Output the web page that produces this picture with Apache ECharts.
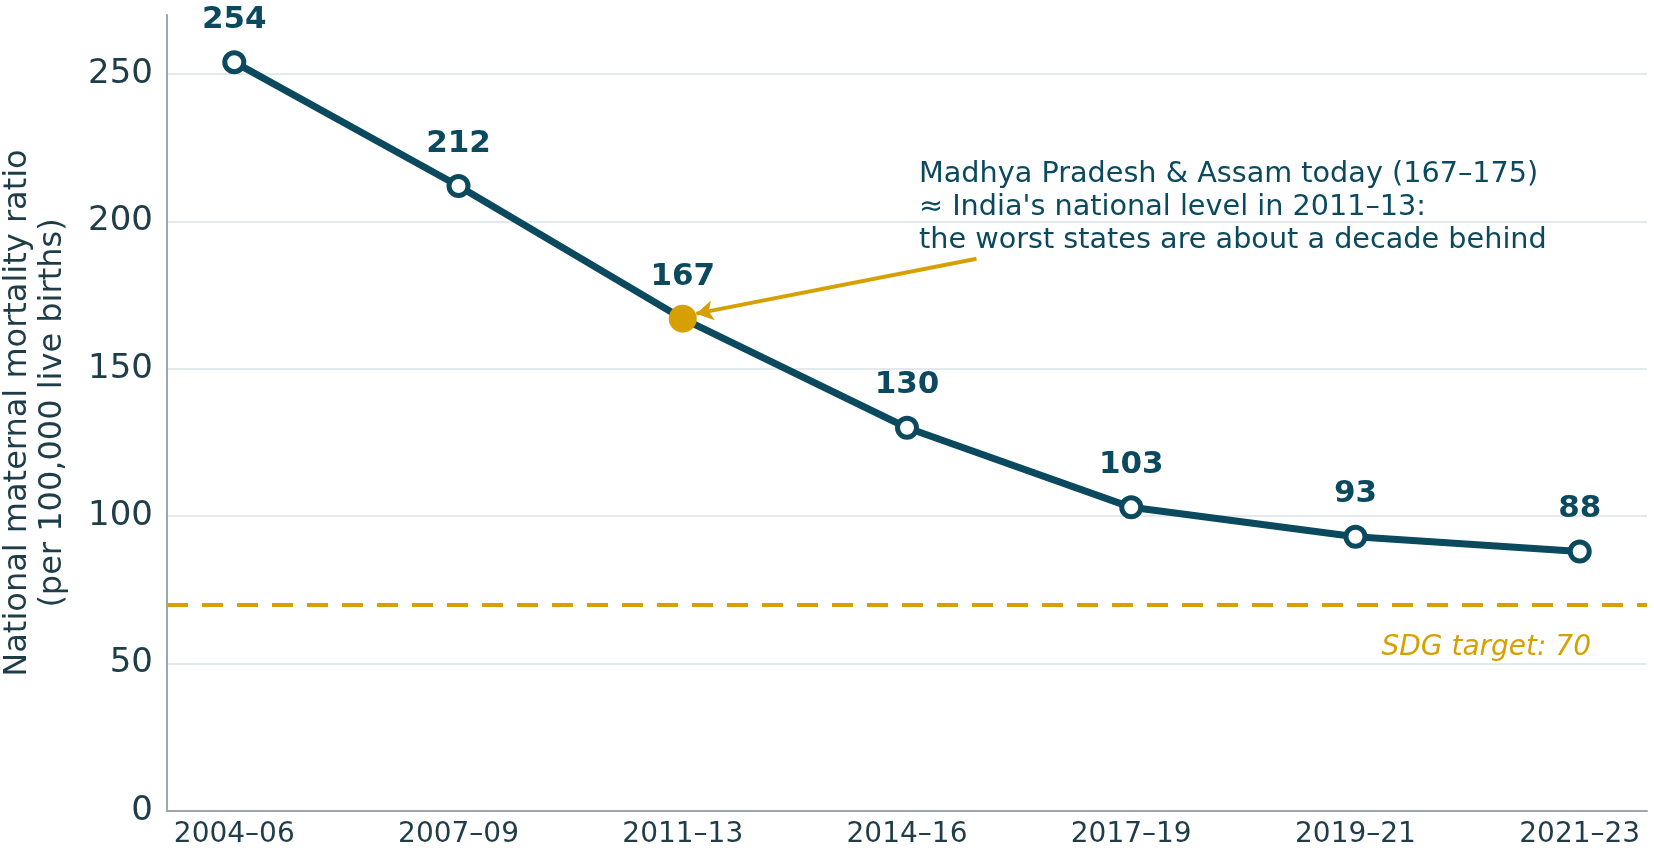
<!DOCTYPE html>
<html>
<head>
<meta charset="utf-8">
<script src="https://cdn.jsdelivr.net/npm/echarts@6/dist/echarts.min.js"></script>
<style>
  html, body { margin: 0; padding: 0; background: #fff; }
  #chart { width: 1654px; height: 850px; }
</style>
</head>
<body>
<div id="chart"></div>
<script>
// data
var periods = ['2004–06', '2007–09', '2011–13', '2014–16', '2017–19', '2019–21', '2021–23'];
var mmr = [254, 212, 167, 130, 103, 93, 88];
var sdgTarget = 70;
var highlightIndex = 2;
var yTicks = [0, 50, 100, 150, 200, 250];
// annotation arrow, in data units (x = period index, y = ratio)
var arrowFrom = [3.31, 187.3];
var arrowTo = [2.06, 168.7];
var noteLines = [
    'Madhya Pradesh & Assam today (167–175)',
    '≈ India\'s national level in 2011–13:',
    'the worst states are about a decade behind'
];

var teal = '#0b4a5e';
var gold = '#d6a100';
var axisGrey = '#9aa8ae';
var tickText = '#1f3d48';
var font = 'DejaVu Sans';

var chart = echarts.init(document.getElementById('chart'));

var points = mmr.map(function (v, i) {
    if (i === highlightIndex) {
        return {
            value: [i, v],
            symbolSize: 28,
            itemStyle: { color: gold, borderWidth: 0 },
            label: { distance: 12 }
        };
    }
    return { value: [i, v] };
});

var option = {
    animation: false,
    textStyle: { fontFamily: font },
    grid: { left: 167, right: 7, top: 15, bottom: 39, outerBoundsMode: 'none' },
    xAxis: {
        type: 'value',
        min: -0.3,
        max: 6.3,
        axisLine: { show: true, lineStyle: { color: axisGrey, width: 2 } },
        axisTick: { show: false },
        splitLine: { show: false },
        axisLabel: {
            customValues: periods.map(function (p, i) { return i; }),
            formatter: function (v) { return periods[v]; },
            fontSize: 28,
            color: tickText,
            margin: 10
        }
    },
    yAxis: {
        type: 'value',
        min: 0,
        max: 270,
        interval: 50,
        name: 'National maternal mortality ratio\n(per 100,000 live births)',
        nameLocation: 'middle',
        nameGap: 97,
        nameTextStyle: { fontSize: 32, lineHeight: 35, color: tickText },
        axisLine: { show: true, onZero: false, lineStyle: { color: axisGrey, width: 2 } },
        axisTick: { show: false },
        axisLabel: {
            customValues: yTicks,
            fontSize: 34,
            color: tickText,
            margin: 14
        },
        splitLine: {
            show: true,
            showMinLine: false,
            showMaxLine: false,
            lineStyle: { color: '#e3eaed', width: 2 }
        }
    },
    graphic: [{
        type: 'text',
        left: 919,
        top: 158,
        style: {
            text: noteLines.join('\n'),
            font: '28.7px "DejaVu Sans"',
            lineHeight: 33,
            fill: teal
        }
    }],
    series: [{
        type: 'line',
        data: points,
        lineStyle: { color: teal, width: 7 },
        symbol: 'circle',
        symbolSize: 19,
        itemStyle: { color: '#fff', borderColor: teal, borderWidth: 5 },
        label: {
            show: true,
            position: 'top',
            distance: 15,
            formatter: function (p) { return p.value[1]; },
            fontSize: 31,
            fontWeight: 'bold',
            color: teal
        },
        markLine: {
            silent: true,
            symbol: 'none',
            data: [
                {
                    yAxis: sdgTarget,
                    lineStyle: { color: gold, width: 4, type: [21, 14] },
                    label: {
                        show: true,
                        position: 'insideEndBottom',
                        distance: [56, 29],
                        formatter: 'SDG target: ' + sdgTarget,
                        fontSize: 28,
                        fontStyle: 'italic',
                        color: gold
                    }
                },
                [
                    { coord: arrowFrom, symbol: 'none' },
                    {
                        coord: arrowTo,
                        symbol: 'arrow',
                        symbolSize: [15, 17],
                        lineStyle: { color: gold, width: 4, type: 'solid' },
                        label: { show: false }
                    }
                ]
            ]
        }
    }]
};

chart.setOption(option);
</script>
</body>
</html>
